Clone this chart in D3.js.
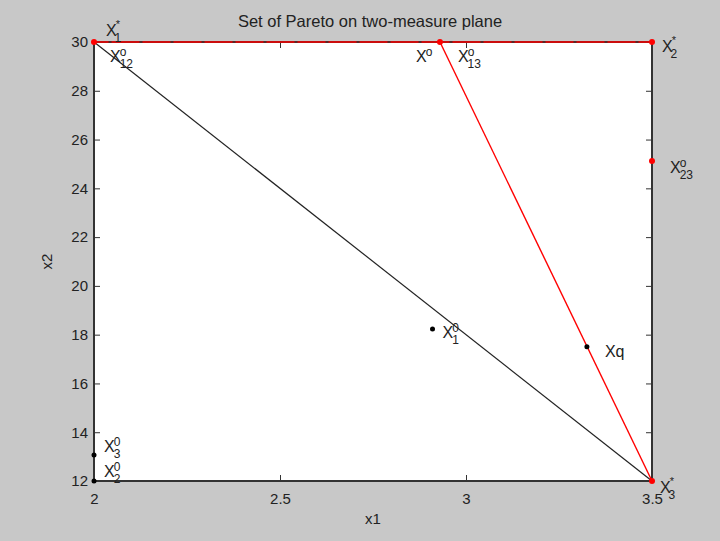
<!DOCTYPE html>
<html><head><meta charset="utf-8">
<script src="https://cdn.jsdelivr.net/npm/d3@7"></script>
<style>body{margin:0;background:#c8c8c8;}svg{display:block;font-family:"Liberation Sans",Arial,sans-serif;}</style>
</head><body>
<script>
const xTicks = [2, 2.5, 3, 3.5];
const yTicks = [12, 14, 16, 18, 20, 22, 24, 26, 28, 30];
const blackLine = [[2, 30], [3.5, 12]];
const redLines = [[[2, 30], [3.5, 30]], [[2.93, 30], [3.5, 12]]];
const redPoints = [[2, 30], [3.5, 30], [3.5, 12], [2.93, 30], [3.5, 25.12]];
const blackPoints = [[2.91, 18.23], [3.325, 17.5], [2, 13.07], [2, 12]];
// label: [x, y, main, sup, sub, dx, dy]
const labels = [
  [2, 30, "X", "*", "1", 12, -6],
  [2, 30, "X", "o", "12", 16, 20],
  [2.93, 30, "X", "o", "", -24, 20],
  [2.93, 30, "X", "o", "13", 18, 20],
  [3.5, 30, "X", "*", "2", 10, 10],
  [3.5, 25.12, "X", "o", "23", 18, 12],
  [2.91, 18.23, "X", "0", "1", 10, 9],
  [3.325, 17.5, "X", "q", "", 18, 10],
  [2, 13.07, "X", "0", "3", 10, -3],
  [2, 12, "X", "0", "2", 10, -4],
  [3.5, 12, "X", "*", "3", 8, 12]
];
const W = 720, H = 541;
const svg = d3.select("body").append("svg").attr("width", W).attr("height", H);
svg.append("rect").attr("width", W).attr("height", H).attr("fill", "#c8c8c8");
const L = 94, R = 652, T = 42, B = 481;
const x = d3.scaleLinear().domain([2, 3.5]).range([L, R]);
const y = d3.scaleLinear().domain([12, 30]).range([B, T]);
svg.append("rect").attr("x", L).attr("y", T).attr("width", R - L).attr("height", B - T).attr("fill", "#fff");
const ax = (g) => g.selectAll(".domain").remove();
const fmt = d3.format("");
svg.append("g").attr("transform", `translate(0,${B})`)
  .call(d3.axisBottom(x).tickValues(xTicks).tickSizeInner(-6).tickSizeOuter(0).tickPadding(12).tickFormat(fmt))
  .call(ax).call(g => { g.selectAll("line").attr("stroke", "#333"); g.selectAll("text").attr("font-size", 15).attr("fill", "#222").attr("font-family", "Liberation Sans, Arial"); });
svg.append("g").attr("transform", `translate(0,${T})`)
  .call(d3.axisTop(x).tickValues(xTicks).tickSizeInner(-6).tickSizeOuter(0).tickFormat(""))
  .call(ax).call(g => g.selectAll("line").attr("stroke", "#333"));
svg.append("g").attr("transform", `translate(${L},0)`)
  .call(d3.axisLeft(y).tickValues(yTicks).tickSizeInner(-6).tickSizeOuter(0).tickPadding(6).tickFormat(fmt))
  .call(ax).call(g => { g.selectAll("line").attr("stroke", "#333"); g.selectAll("text").attr("font-size", 15).attr("fill", "#222").attr("font-family", "Liberation Sans, Arial"); });
svg.append("g").attr("transform", `translate(${R},0)`)
  .call(d3.axisRight(y).tickValues(yTicks).tickSizeInner(-6).tickSizeOuter(0).tickFormat(""))
  .call(ax).call(g => g.selectAll("line").attr("stroke", "#333"));
svg.append("rect").attr("x", L).attr("y", T).attr("width", R - L).attr("height", B - T)
  .attr("fill", "none").attr("stroke", "#333").attr("stroke-width", 2);
const line = d3.line().x(d => x(d[0])).y(d => y(d[1]));
svg.append("path").attr("d", line(blackLine)).attr("stroke", "#222").attr("fill", "none").attr("stroke-width", 1.2);
redLines.forEach(l => svg.append("path").attr("d", line(l)).attr("stroke", "#f00").attr("fill", "none").attr("stroke-width", 1.4));
svg.append("path").attr("d", line(redLines[0])).attr("stroke", "#333").attr("fill", "none")
  .attr("stroke-width", 1.3).attr("stroke-dasharray", "3 28").attr("stroke-dashoffset", 16.5);
svg.selectAll(".rp").data(redPoints).join("circle").attr("cx", d => x(d[0])).attr("cy", d => y(d[1])).attr("r", 3).attr("fill", "#f00");
svg.selectAll(".bp").data(blackPoints).join("circle").attr("cx", d => x(d[0])).attr("cy", d => y(d[1])).attr("r", 2.5).attr("fill", "#000");
labels.forEach(l => {
  const px = x(l[0]) + l[5], py = y(l[1]) + l[6];
  const t = svg.append("text").attr("x", px).attr("y", py).attr("font-size", 16).attr("fill", "#222");
  if (l[3] === "q") { t.text("Xq"); return; }
  t.append("tspan").text(l[2]);
  const sup = t.append("tspan").attr("font-size", l[3] === "*" ? 11 : 12).attr("dx", -1)
    .attr("dy", l[3] === "*" ? -8 : -6).text(l[3]);
  if (l[4]) {
    const supW = l[3] === "*" ? 5.5 : 6.7;
    t.append("tspan").attr("font-size", 12).attr("dx", -supW).attr("dy", l[3] === "*" ? 14 : 12).text(l[4]);
  }
});
svg.append("text").attr("x", 370).attr("y", 27).attr("text-anchor", "middle").attr("font-size", 16.5).attr("fill", "#222").text("Set of Pareto on two-measure plane");
svg.append("text").attr("x", x(2.75)).attr("y", 524).attr("text-anchor", "middle").attr("font-size", 15).attr("fill", "#222").text("x1");
svg.append("text").attr("transform", `translate(52,${(T + B) / 2}) rotate(-90)`).attr("text-anchor", "middle").attr("font-size", 15).attr("fill", "#222").text("x2");
</script>
</body></html>
